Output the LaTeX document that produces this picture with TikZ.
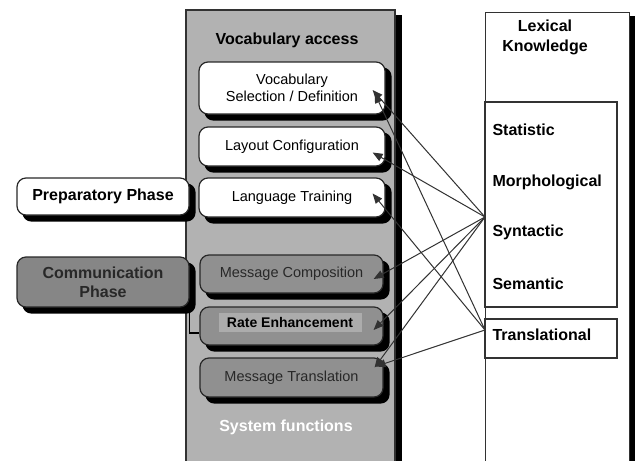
\documentclass[tikz,border=0pt]{standalone}
\usepackage{fontspec}
\setmainfont{Liberation Sans}
\usepackage{tikz}
\usetikzlibrary{arrows.meta}
\definecolor{panelgray}{RGB}{178,178,178}
\definecolor{boxgray}{RGB}{144,144,144}
\definecolor{phasegray}{RGB}{134,134,134}
\definecolor{labelgray}{RGB}{172,172,172}
\definecolor{inkgray}{RGB}{40,40,40}
\definecolor{linegray}{RGB}{50,50,50}
\pgfdeclarelayer{back}
\pgfsetlayers{back,main}
\tikzset{
	fnbox/.style={draw=inkgray, line width=1.2pt, rounded corners=9pt, fill=white, minimum width=186, minimum height=39, inner sep=0pt, align=center, font=\fontsize{14.5}{17}\selectfont},
	darkbox/.style={fnbox, fill=boxgray, text=inkgray},
	phasebox/.style={fnbox, minimum width=172, font=\bfseries\fontsize{16}{19}\selectfont},
	boxshadow/.style={fill=black, rounded corners=9pt},
	bigtitle/.style={font=\bfseries\fontsize{16}{20}\selectfont, align=center},
	lexitem/.style={anchor=west, font=\bfseries\fontsize{16}{19}\selectfont},
	lexbox/.style={draw=linegray, line width=1.2pt, fill=white, minimum width=132, inner sep=0pt},
	link/.style={draw=linegray, line width=1pt, -{Triangle[length=10pt,width=8pt]}}
}
\begin{document}
\begin{tikzpicture}[x=1pt,y=-1pt]
		\useasboundingbox (0,0) rectangle (638,461);
		\node[fnbox, minimum height=52] (vsel) at (292,88) {Vocabulary\\Selection / Definition};
		\node[fnbox] (layout) at (292,146.5) {Layout Configuration};
		\node[fnbox] (lang) at (292,197.5) {Language Training};
		\node[darkbox, minimum width=183, minimum height=38] (mcomp) at (291.5,274) {Message Composition};
		\node[darkbox, minimum width=183, minimum height=38] (rate) at (291.5,326) {};
		\node[fill=labelgray, minimum width=143, minimum height=19, inner sep=0pt, font=\bfseries\fontsize{14}{17}\selectfont] (ratelbl) at (290,322.5) {Rate Enhancement};
		\node[darkbox, minimum width=183] (mtrans) at (291.5,377.5) {Message Translation};
		\node[phasebox, minimum height=37] (prep) at (103,196.5) {Preparatory Phase};
		\node[phasebox, fill=phasegray, text=inkgray, minimum height=50] (comm) at (103,282) {Communication\\Phase};
		\begin{pgfonlayer}{back}
			\fill[white] (0,0) rectangle (638,461);
			\fill[black] (193,15) rectangle (402,470);
			\node[draw=linegray, line width=1.2pt, fill=panelgray, minimum width=209, minimum height=455, inner sep=0pt] (panel) at (290.5,237.5) {};
			\fill[black] (491,16) rectangle (635,470);
			\node[draw=linegray, line width=1pt, fill=white, minimum width=144, minimum height=458, inner sep=0pt] (lexical) at (557,241) {};
			\foreach \b in {vsel,layout,lang,mcomp,rate,mtrans,prep,comm}
				\fill[boxshadow] ([shift={(6,6)}]\b.north west) rectangle ([shift={(6,6)}]\b.south east);
		\end{pgfonlayer}
		\node[font=\bfseries\fontsize{16}{20}\selectfont] (vocabtitle) at (287,40) {Vocabulary access};
		\node[bigtitle, text=white] (systitle) at (286,427) {System functions};
		\node[bigtitle] (lextitle) at (545,37) {Lexical\\Knowledge};
		\node[lexbox, minimum height=205] (lexinner) at (551,204.5) {};
		\node[lexbox, minimum height=39] (transbox) at (551,338.5) {};
		\node[lexitem] (statistic) at (489,130) {Statistic};
		\node[lexitem] (morph) at (489,182) {Morphological};
		\node[lexitem] (syntactic) at (489,232) {Syntactic};
		\node[lexitem] (semantic) at (489,284) {Semantic};
		\node[lexitem] (translational) at (489,335) {Translational};
		\coordinate (syn) at (485,217);
		\coordinate (trn) at (485,330);
		\draw[link] (syn) -- ([shift={(-13,2)}]vsel.east);
		\draw[link] (trn) -- ([shift={(-11,5)}]vsel.east);
		\draw[link] (syn) -- ([shift={(-13,6)}]layout.east);
		\draw[link] (trn) -- ([shift={(-13,-4)}]lang.east);
		\draw[link] (syn) -- ([shift={(-10,5)}]mcomp.east);
		\draw[link] (syn) -- ([shift={(-10,4)}]rate.east);
		\draw[link] (syn) -- ([shift={(-9,-10)}]mtrans.east);
		\draw[link] (trn) -- ([shift={(-8,-11)}]mtrans.east);
		\draw[black, line width=1.4pt] (comm.south east) |- ([yshift=-7pt]rate.west);
		\end{tikzpicture}
\end{document}
